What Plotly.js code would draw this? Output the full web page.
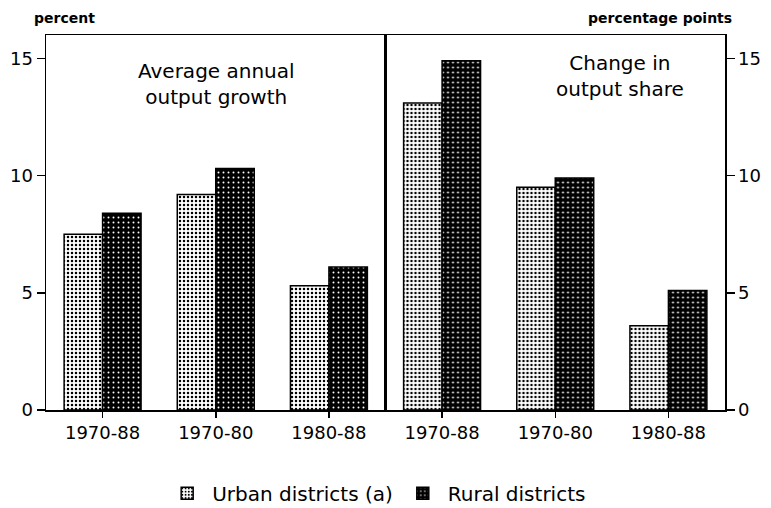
<!DOCTYPE html>
<html>
<head>
<meta charset="utf-8">
<script src="https://cdn.plot.ly/plotly-3.0.1.min.js"></script>
<style>
  html, body { margin: 0; padding: 0; background: #fff; }
  #chart { width: 771px; height: 508px; }
</style>
</head>
<body>
<div id="chart"></div>
<script>
// Data
const categories = ['1970-88', '1970-80', '1980-88'];
const urbanGrowth = [7.5, 9.2, 5.3];   // Average annual output growth, percent
const ruralGrowth = [8.4, 10.3, 6.1];
const urbanShare = [13.1, 9.5, 3.6];   // Change in output share, percentage points
const ruralShare = [14.9, 9.9, 5.1];
const seriesNames = ['Urban districts (a)', 'Rural districts'];
const yTicks = [0, 5, 10, 15];

const FONT = 'DejaVu Sans, Arial, sans-serif';

const urbanMarker = {
  color: '#ffffff',
  line: { color: '#000000', width: 1.5 },
  pattern: { shape: '.', fgcolor: '#000000', bgcolor: '#ffffff', size: 4, solidity: 0.3 }
};
const ruralMarker = {
  color: '#000000',
  line: { color: '#000000', width: 1.5 },
  pattern: { shape: '.', fgcolor: '#ffffff', bgcolor: '#000000', size: 5, solidity: 0.12 }
};

const traces = [
  { type: 'bar', x: categories, y: urbanGrowth, name: seriesNames[0], legendgroup: 'u',
    marker: urbanMarker, xaxis: 'x', yaxis: 'y' },
  { type: 'bar', x: categories, y: ruralGrowth, name: seriesNames[1], legendgroup: 'r',
    marker: ruralMarker, xaxis: 'x', yaxis: 'y' },
  { type: 'bar', x: categories, y: urbanShare, name: seriesNames[0], legendgroup: 'u', showlegend: false,
    marker: urbanMarker, xaxis: 'x2', yaxis: 'y2' },
  { type: 'bar', x: categories, y: ruralShare, name: seriesNames[1], legendgroup: 'r', showlegend: false,
    marker: ruralMarker, xaxis: 'x2', yaxis: 'y2' }
];

const xBase = {
  type: 'category', range: [-0.5, 2.5], showline: true, linecolor: '#000', linewidth: 1.5,
  mirror: true, ticks: 'outside', ticklen: 6, tickwidth: 1.5, tickcolor: '#000',
  showgrid: false, zeroline: false, fixedrange: true,
  tickfont: { family: FONT, size: 18, color: '#000' }
};
const yBase = {
  range: [0, 16], tickvals: yTicks, ticktext: yTicks.map(String),
  showline: true, linecolor: '#000', linewidth: 1.5, mirror: true,
  ticks: 'outside', ticklen: 8, tickwidth: 1.5, tickcolor: '#000',
  showgrid: false, zeroline: false, fixedrange: true,
  tickfont: { family: FONT, size: 18, color: '#000' }
};

const annFont = { family: FONT, size: 20, color: '#000' };
const layout = {
  width: 771, height: 508,
  margin: { l: 46, r: 46, t: 35, b: 98, autoexpand: false },
  paper_bgcolor: '#fff', plot_bgcolor: '#fff',
  barmode: 'group', bargap: 0.32, bargroupgap: 0,
  showlegend: true,
  legend: {
    orientation: 'h', x: 0.487, xanchor: 'center', y: -0.222, yanchor: 'middle',
    font: { family: FONT, size: 20, color: '#000' }, traceorder: 'normal',
    itemwidth: 40
  },
  xaxis: Object.assign({}, xBase, { domain: [0, 0.5], anchor: 'y' }),
  xaxis2: Object.assign({}, xBase, { domain: [0.5, 1], anchor: 'y2' }),
  yaxis: Object.assign({}, yBase, { anchor: 'x', side: 'left' }),
  yaxis2: Object.assign({}, yBase, { anchor: 'x2', side: 'right' }),
  annotations: [
    { xref: 'paper', yref: 'paper', x: 0.2504, y: (410 - 84) / 375, text: 'Average annual<br>output growth',
      showarrow: false, xanchor: 'center', yanchor: 'middle', font: annFont },
    { xref: 'paper', yref: 'paper', x: 0.846, y: (410 - 76) / 375, text: 'Change in<br>output share',
      showarrow: false, xanchor: 'center', yanchor: 'middle', font: annFont },
    { xref: 'paper', yref: 'paper', x: -0.021, y: (410 - 18) / 375, text: '<b>percent</b>',
      showarrow: false, xanchor: 'left', yanchor: 'middle',
      font: { family: FONT, size: 14, color: '#000' } },
    { xref: 'paper', yref: 'paper', x: 1.0133, y: (410 - 18) / 375, text: '<b>percentage points</b>',
      showarrow: false, xanchor: 'right', yanchor: 'middle',
      font: { family: FONT, size: 14, color: '#000' } }
  ]
};

Plotly.newPlot('chart', traces, layout, { staticPlot: true, displayModeBar: false });
</script>
</body>
</html>
